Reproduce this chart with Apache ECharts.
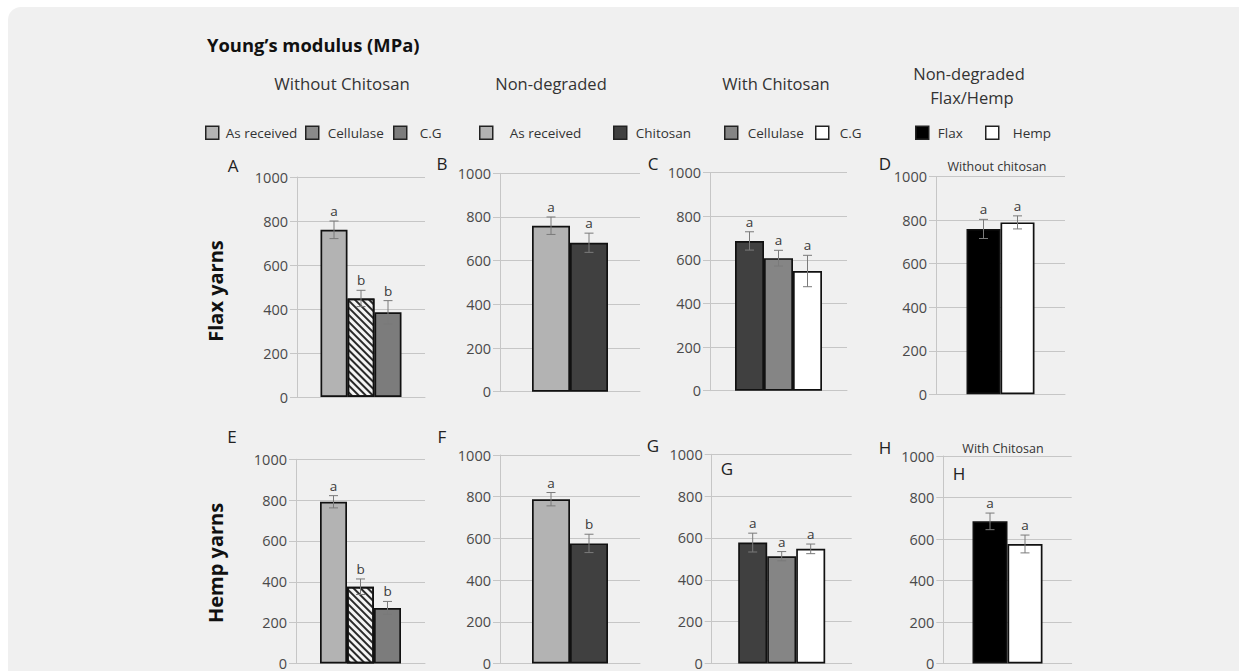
<!DOCTYPE html>
<html>
<head>
<meta charset="utf-8">
<script src="https://cdn.jsdelivr.net/npm/echarts@6/dist/echarts.min.js"></script>
<style>
html,body{margin:0;padding:0;background:#ffffff;width:1239px;height:671px;overflow:hidden;}
#card{position:absolute;left:8px;top:7px;width:1243px;height:700px;border-radius:13px;background:#f0f0f0;}
#chart{position:absolute;left:0;top:0;width:1239px;height:671px;}
</style>
</head>
<body>
<div id="card"></div>
<div id="chart"></div>
<script>
// ---- data ----
const yTicks = [0, 200, 400, 600, 800, 1000];

const namesA = ['As received', 'Cellulase', 'C.G'];
const valuesA = [760, 448, 385];
const errA = [40, 37, 53];
const lettersA = ['a', 'b', 'b'];

const namesB = ['As received', 'Chitosan'];
const valuesB = [760, 682];
const errB = [40, 44];
const lettersB = ['a', 'a'];

const namesC = ['Chitosan', 'Cellulase', 'C.G'];
const valuesC = [687, 608, 549];
const errC = [42, 36, 72];
const lettersC = ['a', 'a', 'a'];

const namesD = ['Flax', 'Hemp'];
const valuesD = [760, 790];
const errD = [44, 30];
const lettersD = ['a', 'a'];

const namesE = ['As received', 'Cellulase', 'C.G'];
const valuesE = [792, 376, 272];
const errE = [30, 38, 32];
const lettersE = ['a', 'b', 'b'];

const namesF = ['As received', 'Chitosan'];
const valuesF = [788, 576];
const errF = [32, 44];
const lettersF = ['a', 'b'];

const namesG = ['Chitosan', 'Cellulase', 'C.G'];
const valuesG = [578, 513, 548];
const errG = [45, 22, 23];
const lettersG = ['a', 'a', 'a'];

const namesH = ['Flax', 'Hemp'];
const valuesH = [685, 576];
const errH = [40, 43];
const lettersH = ['a', 'a'];

// ---- styles / layout ----
const FONT = '"Open Sans", "DejaVu Sans", sans-serif';
const GRIDC = '#c6c6c6';
const hatch = {symbol: 'rect', symbolSize: 1, dashArrayX: [[1, 0]], dashArrayY: [1.2, 2.1], rotation: Math.PI / 4, color: '#2a2a2a'};

const panels = [
  {names: namesA, values: valuesA, err: errA, letters: lettersA, colors: ['#b3b3b3', '#f4f4f4', '#7c7c7c'], decals: [null, hatch, null], box: [297, 177, 425, 397], bw: 27},
  {names: namesB, values: valuesB, err: errB, letters: lettersB, colors: ['#b3b3b3', '#404040'], decals: [null, null], box: [500, 173.3, 640, 391.7], bw: 38},
  {names: namesC, values: valuesC, err: errC, letters: lettersC, colors: ['#404040', '#858585', '#ffffff'], decals: [null, null, null], box: [710, 172.7, 847, 390.7], bw: 29},
  {names: namesD, values: valuesD, err: errD, letters: lettersD, colors: ['#000000', '#ffffff'], decals: [null, null], box: [936, 176.7, 1065, 394.3], bw: 34},
  {names: namesE, values: valuesE, err: errE, letters: lettersE, colors: ['#b3b3b3', '#f4f4f4', '#7c7c7c'], decals: [null, hatch, null], box: [296, 459.3, 425, 666], bw: 27},
  {names: namesF, values: valuesF, err: errF, letters: lettersF, colors: ['#b3b3b3', '#404040'], decals: [null, null], box: [500, 455, 640, 665], bw: 38},
  {names: namesG, values: valuesG, err: errG, letters: lettersG, colors: ['#404040', '#858585', '#ffffff'], decals: [null, null, null], box: [711.7, 454.3, 851.7, 665], bw: 29},
  {names: namesH, values: valuesH, err: errH, letters: lettersH, colors: ['#000000', '#ffffff'], decals: [null, null], box: [943.3, 456, 1071.7, 666], bw: 35}
];

const W = 1239, H = 671;
const grid = [], xAxis = [], yAxis = [], series = [];

panels.forEach((p, pi) => {
  const [x1, y1, x2, y2] = p.box;
  grid.push({left: x1, top: y1, width: x2 - x1, height: y2 - y1});
  xAxis.push({
    type: 'category', gridIndex: pi, data: [''],
    axisLine: {show: true, lineStyle: {color: GRIDC, width: 1}},
    axisTick: {show: false}, axisLabel: {show: false}
  });
  yAxis.push({
    type: 'value', gridIndex: pi, min: yTicks[0], max: yTicks[yTicks.length - 1], interval: yTicks[1] - yTicks[0],
    axisLine: {show: true, lineStyle: {color: GRIDC, width: 1}},
    axisTick: {show: true, length: 7, lineStyle: {color: GRIDC}},
    splitLine: {show: true, lineStyle: {color: GRIDC, width: 1}},
    axisLabel: {show: true, margin: 9, color: '#4a4a4a', fontSize: 14.5, fontFamily: FONT, formatter: v => String(v)}
  });
  p.values.forEach((v, i) => {
    const s = {
      type: 'bar', name: p.names[i], xAxisIndex: pi, yAxisIndex: pi,
      data: [v], barWidth: p.bw, barGap: '0%',
      itemStyle: {color: p.colors[i], borderColor: '#111', borderWidth: 1.7},
      emphasis: {disabled: true}, silent: true
    };
    if (p.decals[i]) s.itemStyle.decal = p.decals[i];
    series.push(s);
  });
  const n = p.values.length;
  series.push({
    type: 'custom', xAxisIndex: pi, yAxisIndex: pi, silent: true, z: 5,
    data: p.values.map((v, i) => [0, v, p.err[i], i]),
    encode: {x: 0, y: 1},
    renderItem: function (params, api) {
      const val = api.value(1), e = api.value(2), idx = api.value(3);
      const c = api.coord([0, val]);
      const x = c[0] + (idx - (n - 1) / 2) * p.bw;
      const top = api.coord([0, val + e])[1];
      const bot = api.coord([0, val - e])[1];
      const cap = 4.5;
      const st = {stroke: '#7a7a7a', lineWidth: 1};
      return {
        type: 'group',
        children: [
          {type: 'line', shape: {x1: x, y1: top, x2: x, y2: bot}, style: st},
          {type: 'line', shape: {x1: x - cap, y1: top, x2: x + cap, y2: top}, style: st},
          {type: 'line', shape: {x1: x - cap, y1: bot, x2: x + cap, y2: bot}, style: st},
          {type: 'text', x: x, y: top - 3, style: {text: p.letters[params.dataIndex], fill: '#3a3a3a', fontSize: 13.5, fontFamily: FONT, textAlign: 'center', textVerticalAlign: 'bottom'}}
        ]
      };
    }
  });
});

// legends: [name, color, left, textPad]
const legendItems = [
  ['As received', '#b3b3b3', 205, 2],
  ['Cellulase', '#8a8a8a', 305, 4],
  ['C.G', '#7c7c7c', 393, 8],
  ['As received', '#b3b3b3', 479, 12],
  ['Chitosan', '#404040', 613, 4],
  ['Cellulase', '#858585', 724, 5],
  ['C.G', '#ffffff', 815, 6],
  ['Flax', '#000000', 915, 4],
  ['Hemp', '#ffffff', 985, 9]
];
const legend = legendItems.map(li => ({
  left: li[2], top: 125.5, padding: 0, selectedMode: false, icon: 'rect',
  itemWidth: 13, itemHeight: 13,
  itemStyle: {decal: 'none'},
  data: [{name: li[0], itemStyle: {color: li[1], borderColor: '#222', borderWidth: 1.5, decal: 'none'}}],
  textStyle: {fontSize: 13.5, color: '#333', fontFamily: FONT, padding: [0, 0, 0, li[3]]}
}));

function txt(t, x, y, size, opts) {
  return Object.assign({type: 'text', x: x, y: y, silent: true,
    style: Object.assign({text: t, fill: '#333', fontSize: size, fontFamily: FONT, textAlign: 'center', textVerticalAlign: 'middle'}, (opts && opts.style) || {})},
    (opts && opts.el) || {});
}

const graphic = [
  txt('Young\u2019s modulus (MPa)', 207, 44, 18.4, {style: {textAlign: 'left', fontWeight: 'bold', fill: '#111'}}),
  txt('Without Chitosan', 342, 83, 16.8),
  txt('Non-degraded', 551, 83, 16.5),
  txt('With Chitosan', 776, 83, 16.5),
  txt('Non-degraded', 969, 73, 16.5),
  txt('Flax/Hemp', 972, 97, 16.5),
  txt('Flax yarns', 215, 291, 20, {style: {fontWeight: 'bold', fill: '#111'}, el: {rotation: Math.PI / 2}}),
  txt('Hemp yarns', 215, 563, 20, {style: {fontWeight: 'bold', fill: '#111'}, el: {rotation: Math.PI / 2}}),
  txt('A', 233, 165, 17, {style: {fill: '#222'}}), txt('B', 442, 163, 17, {style: {fill: '#222'}}),
  txt('C', 653, 163, 17, {style: {fill: '#222'}}), txt('D', 885, 163, 17, {style: {fill: '#222'}}),
  txt('E', 232, 436, 17, {style: {fill: '#222'}}), txt('F', 442, 436, 17, {style: {fill: '#222'}}),
  txt('G', 653, 445, 17, {style: {fill: '#222'}}), txt('H', 885, 447, 17, {style: {fill: '#222'}}),
  txt('Without chitosan', 997, 166, 12.5),
  txt('With Chitosan', 1003, 448, 12.5),
  txt('G', 727, 468, 17, {style: {fill: '#222'}}),
  txt('H', 959, 473, 17, {style: {fill: '#222'}})
];

const chart = echarts.init(document.getElementById('chart'), null, {renderer: 'svg', width: W, height: H});
chart.setOption({
  animation: false,
  backgroundColor: 'transparent',
  grid: grid, xAxis: xAxis, yAxis: yAxis, series: series,
  legend: legend, graphic: graphic
});
</script>
</body>
</html>
